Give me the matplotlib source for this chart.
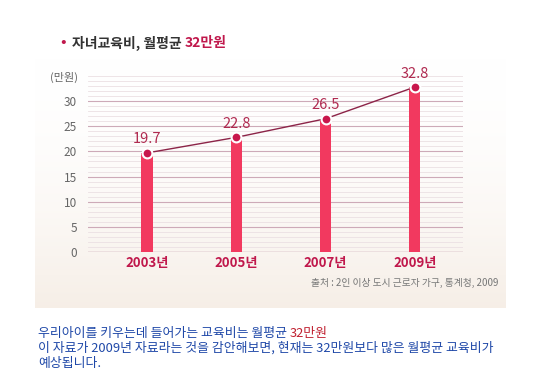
import matplotlib.pyplot as plt
import numpy as np

plt.rcParams['font.family'] = ['Noto Sans CJK KR', 'DejaVu Sans']

years = ['2003년', '2005년', '2007년', '2009년']
values = [19.7, 22.8, 26.5, 32.8]
yticks = [0, 5, 10, 15, 20, 25, 30]

fig = plt.figure(figsize=(5.5, 3.78), dpi=100)

# cream gradient panel behind the chart
bg = fig.add_axes([35 / 550, 1 - 308 / 378, 471 / 550, 250 / 378], zorder=0)
grad = np.linspace(0, 1, 100)[:, None] ** 1.8
base = np.array([1.0, 1.0, 1.0])
cream = np.array([0.965, 0.935, 0.905])
img = base + (cream - base) * grad[..., None]
img = np.repeat(img, 2, axis=1)
bg.imshow(img, aspect='auto', extent=[0, 1, 0, 1], origin='upper')
bg.axis('off')

ax = fig.add_axes([88 / 550, 1 - 252 / 378, 375 / 550, 176 / 378], zorder=1)
ax.patch.set_alpha(0)
x = np.arange(len(years))

for v in range(1, 36):
    if v % 5 == 0 and v < 35:
        ax.axhline(v, color='#cdaab8', lw=0.8, zorder=1)
    else:
        ax.axhline(v, color='#ebe0e3', lw=0.6, zorder=1)
ax.axhline(0, color='#b88c9e', lw=1.0, zorder=1)

ax.bar(x, values, width=0.125, color='#f2395f', zorder=2)
ax.plot(x, values, color='#8c2448', lw=1.0, zorder=3)
ax.scatter(x, values, s=50, color='#c8174c', edgecolors='white', linewidths=1.5, zorder=4)
for xi, v in zip(x, values):
    ax.text(xi, v + 1.3, f'{v}', ha='center', va='bottom', color='#b02a50', fontsize=10.5)

ax.set_xlim(-0.66, 3.54)
ax.set_ylim(0, 35)
ax.set_yticks(yticks)
ax.set_yticklabels([str(t) for t in yticks], color='#666666', fontsize=8.5)
ax.tick_params(axis='y', length=0, pad=8)
ax.set_xticks(x)
ax.set_xticklabels(years, color='#c0184c', fontsize=9.5, fontweight='bold')
ax.tick_params(axis='x', length=0, pad=3)
for s in ax.spines.values():
    s.set_visible(False)

fig.text(78 / 550, 1 - 77 / 378, '(만원)', ha='right', va='center', color='#666666', fontsize=8)

# title
fig.text(63 / 550, 1 - 43 / 378, '•', ha='center', va='center', color='#c0184c', fontsize=12)
t1 = fig.text(72 / 550, 1 - 43 / 378, '자녀교육비, 월평균 ', ha='left', va='center',
              color='#333333', fontsize=10, fontweight='bold')
fig.canvas.draw()
bb = t1.get_window_extent()
fig.text(bb.x1 / fig.bbox.width, 1 - 43 / 378, '32만원', ha='left', va='center',
         color='#c0184c', fontsize=10, fontweight='bold')

fig.text(498 / 550, 1 - 283 / 378, '출처 : 2인 이상 도시 근로자 가구, 통계청, 2009',
         ha='right', va='center', color='#777777', fontsize=7)

# note below
blue = '#1f48a8'
fs = 9.3
n1 = fig.text(38 / 550, 1 - 333 / 378, '우리아이를 키우는데 들어가는 교육비는 월평균 ', ha='left', va='center',
              color=blue, fontsize=fs)
fig.canvas.draw()
bb = n1.get_window_extent()
fig.text(bb.x1 / fig.bbox.width, 1 - 333 / 378, '32만원', ha='left', va='center', color='#c02030', fontsize=fs)
fig.text(38 / 550, 1 - 348 / 378, '이 자료가 2009년 자료라는 것을 감안해보면, 현재는 32만원보다 많은 월평균 교육비가',
         ha='left', va='center', color=blue, fontsize=fs)
fig.text(38 / 550, 1 - 363 / 378, '예상됩니다.', ha='left', va='center', color=blue, fontsize=fs)

fig.savefig('out.png', dpi=100)
